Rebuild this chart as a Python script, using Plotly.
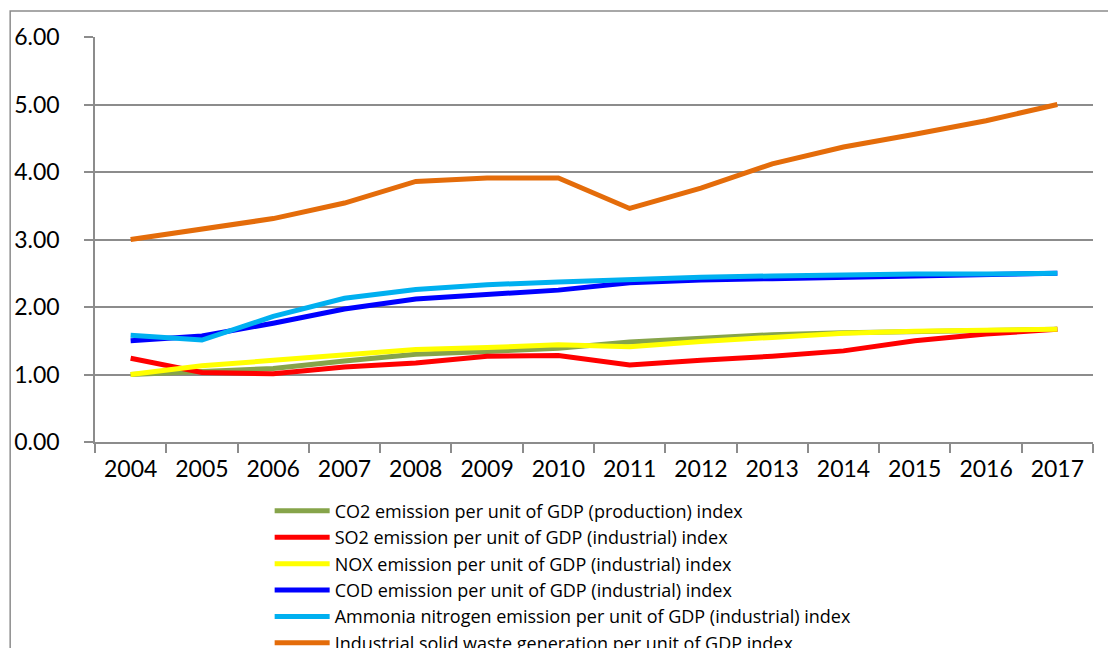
import plotly.graph_objects as go

years = ["2004", "2005", "2006", "2007", "2008", "2009", "2010",
         "2011", "2012", "2013", "2014", "2015", "2016", "2017"]

co2 = [1.00, 1.05, 1.09, 1.20, 1.30, 1.34, 1.39, 1.48, 1.54, 1.59, 1.62, 1.64, 1.66, 1.67]
so2 = [1.24, 1.03, 1.01, 1.11, 1.17, 1.27, 1.28, 1.14, 1.21, 1.27, 1.35, 1.50, 1.60, 1.67]
nox = [1.00, 1.13, 1.21, 1.29, 1.37, 1.40, 1.44, 1.41, 1.49, 1.55, 1.61, 1.64, 1.66, 1.67]
cod = [1.50, 1.57, 1.76, 1.97, 2.12, 2.19, 2.25, 2.36, 2.40, 2.42, 2.44, 2.47, 2.49, 2.50]
ammonia = [1.58, 1.51, 1.86, 2.13, 2.26, 2.33, 2.37, 2.41, 2.44, 2.46, 2.48, 2.49, 2.49, 2.50]
waste = [3.00, 3.15, 3.31, 3.54, 3.86, 3.91, 3.91, 3.46, 3.76, 4.12, 4.37, 4.56, 4.76, 5.00]

series_names = [
    "CO2 emission per unit of GDP (production) index",
    "SO2 emission per unit of GDP (industrial) index",
    "NOX emission per unit of GDP (industrial) index",
    "COD emission per unit of GDP (industrial) index",
    "Ammonia nitrogen emission per unit of GDP (industrial) index",
    "Industrial solid waste generation per unit of GDP index",
]
series_values = [co2, so2, nox, cod, ammonia, waste]
series_colors = ["#86A44A", "#FF0000", "#FFFF00", "#0000FF", "#00B0F0", "#E46C0A"]

FONT = "Lato"
LEGEND_FONT = "Open Sans"

fig = go.Figure()
for name, vals, col in zip(series_names, series_values, series_colors):
    fig.add_trace(go.Scatter(
        x=years, y=vals, name=name, mode="lines",
        line=dict(color=col, width=5),
    ))

grid = "#8C8C8C"
fig.update_layout(
    width=1108, height=648,
    margin=dict(l=95, r=15, t=37, b=206, autoexpand=False),
    paper_bgcolor="white", plot_bgcolor="white",
    font=dict(family=FONT, color="#000000"),
    showlegend=True,
    legend=dict(
        orientation="v", x=0.175, xanchor="left", y=-0.125, yanchor="top",
        font=dict(family=LEGEND_FONT, size=18, color="#000000"),
        itemwidth=55, tracegroupgap=0, bgcolor="rgba(0,0,0,0)",
    ),
    xaxis=dict(
        type="category", range=[-0.5, 13.5],
        showgrid=False, showline=True, linecolor=grid, linewidth=1.5,
        ticks="outside", tickson="boundaries", ticklen=9, tickcolor=grid, tickwidth=1.5,
        tickfont=dict(family=FONT, size=23, color="#000000"),
        ticklabelstandoff=6,
    ),
    yaxis=dict(
        range=[0, 6], dtick=1, tickformat=".2f",
        showgrid=True, gridcolor=grid, gridwidth=1.5,
        showline=True, linecolor=grid, linewidth=1.5,
        ticks="outside", ticklen=9, tickcolor=grid, tickwidth=1.5,
        tickfont=dict(family=FONT, size=23, color="#000000"),
        ticklabelstandoff=20, zeroline=False,
    ),
)

# outer chart-area frame (extends beyond the visible window, as in the reference)
fig.add_shape(type="rect", xref="paper", yref="paper",
              x0=-0.085, x1=1.2, y0=-1.0, y1=1.064,
              line=dict(color="#8C8C8C", width=1.5), layer="below")

fig.write_html("out.html")
